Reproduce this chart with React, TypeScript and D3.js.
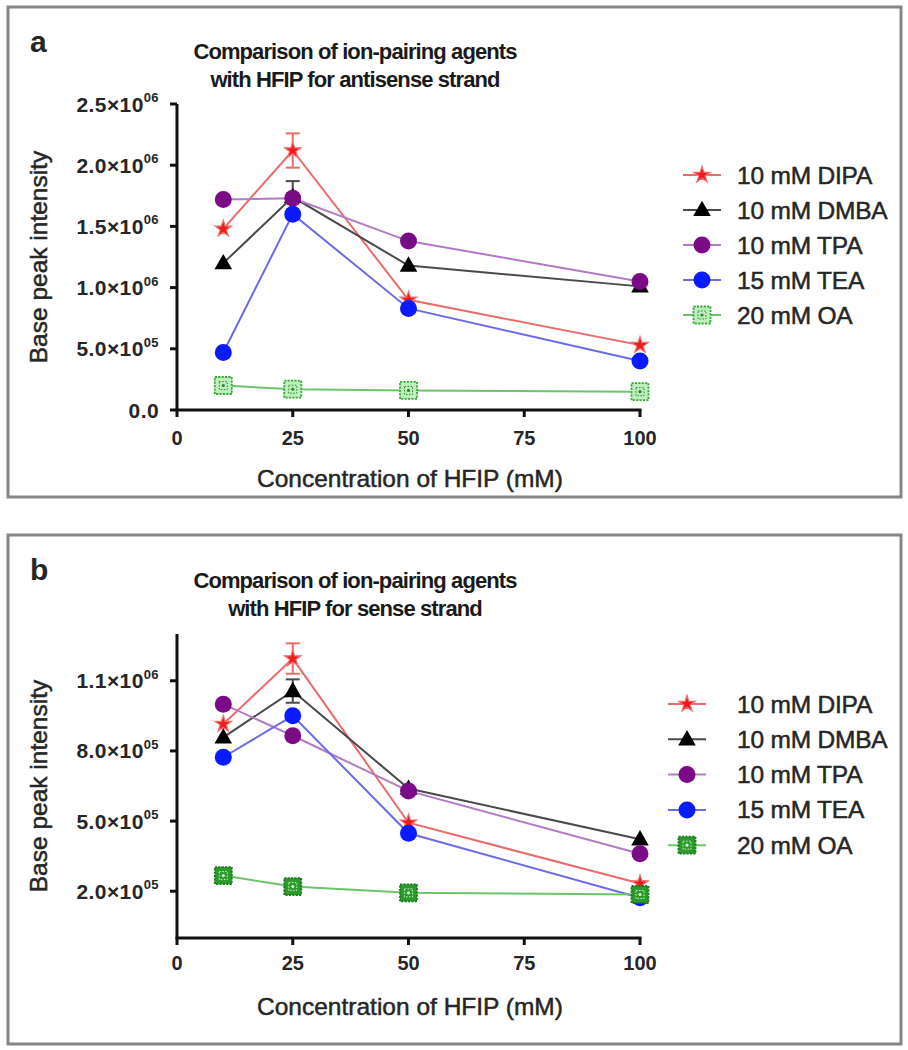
import React from "react";
import * as d3 from "d3";

// ---------- data ----------
const xValues = [10, 25, 50, 100];
const xTicks = [0, 25, 50, 75, 100];
const seriesNames = ["10 mM DIPA", "10 mM DMBA", "10 mM TPA", "15 mM TEA", "20 mM OA"];

// Panel a: antisense strand
const antisenseDIPA = [1.48e6, 2.12e6, 0.9e6, 0.53e6];
const antisenseDMBA = [1.2e6, 1.74e6, 1.18e6, 1.01e6];
const antisenseTPA = [1.72e6, 1.73e6, 1.38e6, 1.05e6];
const antisenseTEA = [0.47e6, 1.6e6, 0.83e6, 0.4e6];
const antisenseOA = [0.2e6, 0.17e6, 0.16e6, 0.15e6];
const antisenseDIPAErr = [0, 0.14e6, 0, 0];
const antisenseDMBAErr = [0, 0.13e6, 0, 0];

// Panel b: sense strand
const senseDIPA = [0.915e6, 1.195e6, 0.493e6, 0.233e6];
const senseDMBA = [0.858e6, 1.056e6, 0.639e6, 0.422e6];
const senseTPA = [1.0e6, 0.865e6, 0.629e6, 0.36e6];
const senseTEA = [0.773e6, 0.95e6, 0.448e6, 0.172e6];
const senseOA = [0.267e6, 0.22e6, 0.193e6, 0.186e6];
const senseDIPAErr = [0, 0.065e6, 0, 0];
const senseDMBAErr = [0, 0.05e6, 0, 0];

const yTicksA = [0, 0.5e6, 1.0e6, 1.5e6, 2.0e6, 2.5e6];
const yTickLabelsA = ["0.0", "5.0×10^05", "1.0×10^06", "1.5×10^06", "2.0×10^06", "2.5×10^06"];
const yTicksB = [2e5, 5e5, 8e5, 1.1e6];
const yTickLabelsB = ["2.0×10^05", "5.0×10^05", "8.0×10^05", "1.1×10^06"];

const titleA = ["Comparison of ion-pairing agents", "with HFIP for antisense strand"];
const titleB = ["Comparison of ion-pairing agents", "with HFIP for sense strand"];
const xTitle = "Concentration of HFIP (mM)";
const yTitle = "Base peak intensity";

// ---------- styles ----------
const FONT = "'Liberation Sans', Arial, sans-serif";
const TXT = "#262626";
const markerKinds = ["star", "triangle", "circlePurple", "circleBlue", "square"];
const lineColors = ["#ec6a6a", "#4a4a4a", "#b27ac4", "#6b6bea", "#6cc46c"];

function Marker({ kind, x, y, dark }: { kind: string; x: number; y: number; dark?: boolean }) {
  if (kind === "star") {
    const d = d3.symbol().type(d3.symbolStar).size(85)();
    return <path d={d || ""} transform={`translate(${x},${y})`} fill="#ee1c1c" stroke="#f07070" strokeWidth={1.2} />;
  }
  if (kind === "triangle") {
    const d = d3.symbol().type(d3.symbolTriangle).size(135)();
    return <path d={d || ""} transform={`translate(${x},${y + 1})`} fill="#000" />;
  }
  if (kind === "circlePurple") return <circle cx={x} cy={y} r={8.5} fill="#7a0a86" />;
  if (kind === "circleBlue") return <circle cx={x} cy={y} r={8.5} fill="#0a1aff" />;
  const s = 17;
  const fill = dark ? "#2e9a2e" : "#bfeebf";
  const stroke = dark ? "#1d7a1d" : "#3aa83a";
  const inner = dark ? "#c8f5c8" : "#2a8a2a";
  return (
    <g transform={`translate(${x},${y})`}>
      <rect x={-s / 2} y={-s / 2} width={s} height={s} fill={fill} stroke={stroke} strokeWidth={1.8} strokeDasharray="2.2,1.2" />
      <rect x={-4} y={-4} width={8} height={8} fill="none" stroke={inner} strokeWidth={1} strokeDasharray="1.5,1.5" />
      <circle r={1.6} fill={inner} />
    </g>
  );
}

function TickLabel({ label, x, y }: { label: string; x: number; y: number }) {
  const [base, sup] = label.split("^");
  return (
    <text x={x} y={y + 7.5} textAnchor="end" fontFamily={FONT} fontWeight="bold" fontSize={21} fill={TXT} letterSpacing={0.4}>
      {base}
      {sup ? (
        <tspan fontSize={13} dy={-9.5}>
          {sup}
        </tspan>
      ) : null}
    </text>
  );
}

type PanelProps = {
  top: number;
  frameH: number;
  letter: string;
  letterY: number;
  title: string[];
  titleY: number[];
  axisTop: number;
  axisBottom: number;
  xLabelDy: number;
  yDomain: [number, number];
  yTicks: number[];
  yLabels: string[];
  series: number[][];
  errs: (number[] | null)[];
  legendX: number;
  legendY: number;
  legendStep: number;
  darkSquare: boolean;
};

function Panel(p: PanelProps) {
  const x = d3.scaleLinear().domain([0, 100]).range([177, 640]);
  const y = d3.scaleLinear().domain(p.yDomain).range([p.axisBottom, p.axisTop]);
  const line = d3
    .line<number>()
    .x((_, i) => x(xValues[i]))
    .y((v) => y(v));
  const order = [0, 1, 2, 3, 4];
  return (
    <g>
      <rect x={8} y={p.top} width={893} height={p.frameH} fill="none" stroke="#858585" strokeWidth={3} />
      <text x={30} y={p.letterY} fontFamily={FONT} fontWeight="bold" fontSize={30} fill={TXT}>
        {p.letter}
      </text>
      {p.title.map((t, i) => (
        <text key={i} x={355} y={p.titleY[i]} textAnchor="middle" fontFamily={FONT} fontWeight="bold" fontSize={22} letterSpacing={-0.9} fill="#1a1a1a">
          {t}
        </text>
      ))}
      {/* y axis */}
      <line x1={177} x2={177} y1={p.axisTop} y2={p.axisBottom} stroke="#111" strokeWidth={3} />
      {p.yTicks.map((t, i) => (
        <g key={i}>
          <line x1={170} x2={177} y1={y(t)} y2={y(t)} stroke="#111" strokeWidth={3} />
          <TickLabel label={p.yLabels[i]} x={159} y={y(t)} />
        </g>
      ))}
      {/* x axis */}
      <line x1={175.5} x2={641.5} y1={p.axisBottom} y2={p.axisBottom} stroke="#111" strokeWidth={3} />
      {xTicks.map((t, i) => (
        <g key={i}>
          <line x1={x(t)} x2={x(t)} y1={p.axisBottom} y2={p.axisBottom + 7} stroke="#111" strokeWidth={3} />
          <text x={x(t)} y={p.axisBottom + p.xLabelDy} textAnchor="middle" fontFamily={FONT} fontWeight="bold" fontSize={20} fill={TXT}>
            {t}
          </text>
        </g>
      ))}
      <text x={410} y={p.axisBottom + 77} textAnchor="middle" fontFamily={FONT} fontSize={24.5} fill={TXT} stroke={TXT} strokeWidth={0.5}>
        {xTitle}
      </text>
      <text
        transform={`translate(${47},${(p.axisTop + p.axisBottom) / 2}) rotate(-90)`}
        textAnchor="middle"
        fontFamily={FONT}
        fontSize={24.5}
        fill={TXT}
        stroke={TXT}
        strokeWidth={0.5}
      >
        {yTitle}
      </text>
      {/* series lines */}
      {order.map((k) => (
        <path key={"l" + k} d={line(p.series[k]) || ""} fill="none" stroke={lineColors[k]} strokeWidth={2} />
      ))}
      {/* error bars */}
      {order.map((k) =>
        p.errs[k]
          ? p.errs[k]!.map((e, i) =>
              e > 0 ? (
                <g key={"e" + k + i} stroke={lineColors[k]} strokeWidth={2}>
                  <line x1={x(xValues[i])} x2={x(xValues[i])} y1={y(p.series[k][i] - e)} y2={y(p.series[k][i] + e)} />
                  <line x1={x(xValues[i]) - 7} x2={x(xValues[i]) + 7} y1={y(p.series[k][i] + e)} y2={y(p.series[k][i] + e)} />
                  <line x1={x(xValues[i]) - 7} x2={x(xValues[i]) + 7} y1={y(p.series[k][i] - e)} y2={y(p.series[k][i] - e)} />
                </g>
              ) : null
            )
          : null
      )}
      {/* markers */}
      {order.map((k) =>
        p.series[k].map((v, i) => <Marker key={"m" + k + i} kind={markerKinds[k]} x={x(xValues[i])} y={y(v)} dark={p.darkSquare} />)
      )}
      {/* legend */}
      {seriesNames.map((n, k) => {
        const ly = p.legendY + k * p.legendStep;
        return (
          <g key={"lg" + k}>
            <line x1={p.legendX - 19} x2={p.legendX + 19} y1={ly} y2={ly} stroke={lineColors[k]} strokeWidth={2} />
            <Marker kind={markerKinds[k]} x={p.legendX} y={ly} dark={p.darkSquare} />
            <text x={737} y={ly + 8.5} fontFamily={FONT} fontSize={24.5} fill={TXT} stroke={TXT} strokeWidth={0.5} letterSpacing={-0.2}>
              {n}
            </text>
          </g>
        );
      })}
    </g>
  );
}

export default function App() {
  return (
    <div style={{ position: "absolute", left: 0, top: 0 }}>
      <svg width={908} height={1050} style={{ display: "block", background: "#fff" }}>
        <Panel
          top={7}
          frameH={490}
          letter="a"
          letterY={52}
          title={titleA}
          titleY={[59, 87]}
          axisTop={104}
          axisBottom={410}
          xLabelDy={35}
          yDomain={[0, 2.5e6]}
          yTicks={yTicksA}
          yLabels={yTickLabelsA}
          series={[antisenseDIPA, antisenseDMBA, antisenseTPA, antisenseTEA, antisenseOA]}
          errs={[antisenseDIPAErr, antisenseDMBAErr, null, null, null]}
          legendX={702}
          legendY={175}
          legendStep={35}
          darkSquare={false}
        />
        <Panel
          top={535}
          frameH={509}
          letter="b"
          letterY={580}
          title={titleB}
          titleY={[588, 616]}
          axisTop={634}
          axisBottom={938}
          xLabelDy={32}
          yDomain={[0, 1.3e6]}
          yTicks={yTicksB}
          yLabels={yTickLabelsB}
          series={[senseDIPA, senseDMBA, senseTPA, senseTEA, senseOA]}
          errs={[senseDIPAErr, senseDMBAErr, null, null, null]}
          legendX={687}
          legendY={704}
          legendStep={35.3}
          darkSquare={true}
        />
      </svg>
    </div>
  );
}
